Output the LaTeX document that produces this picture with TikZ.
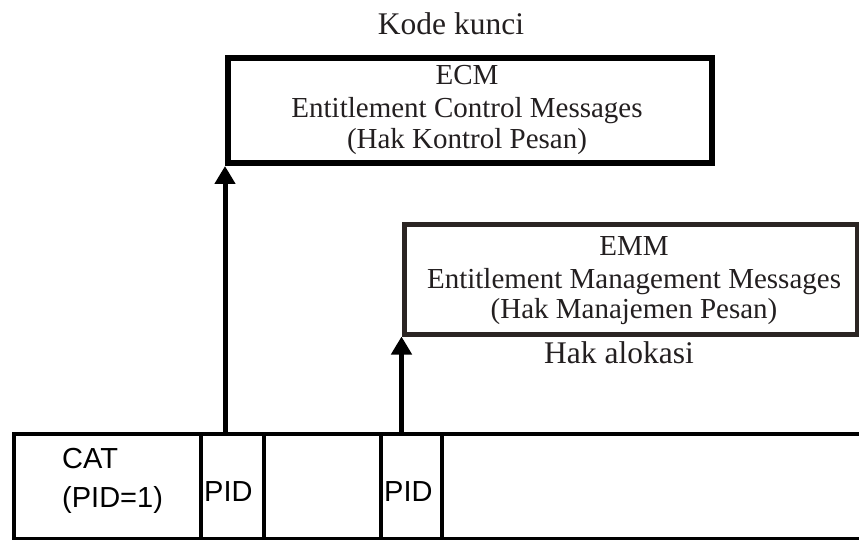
\documentclass[tikz,border=0pt]{standalone}
\usepackage{fontspec}
\setmainfont{Liberation Serif}
\newfontfamily\arialf{Liberation Sans}
\usetikzlibrary{arrows.meta}
\definecolor{txtgray}{HTML}{231F20}
\definecolor{boxgray}{HTML}{2B2523}
\begin{document}
\begin{tikzpicture}[x=1pt,y=-1pt,
  bigbox/.style={draw=black, line width=6pt, inner sep=0pt},
  mgmtbox/.style={draw=boxgray, line width=5pt, inner sep=0pt},
  cell/.style={draw=black, line width=4.5pt, inner sep=0pt, minimum height=105.5pt},
  serif/.style={font=\fontsize{29}{32}\selectfont, text=txtgray, anchor=base, inner sep=0pt},
  caption/.style={serif, font=\fontsize{31.5}{34}\selectfont},
  sans/.style={font=\arialf\fontsize{29}{32}\selectfont, text=black, anchor=base west, inner sep=0pt},
  arr/.style={line width=5pt, -{Triangle[width=20pt,length=18pt]}}]
\useasboundingbox (0,0) rectangle (859,540);

% boxes
\node[bigbox, minimum width=484pt, minimum height=105pt] (ecm) at (470,110.5) {};
\node[mgmtbox, minimum width=453pt, minimum height=110pt] (emm) at (630.5,279) {};

% bottom row
\node[cell, minimum width=187pt] (cat) at (107.5,486.75) {};
\node[cell, minimum width=63pt] (pid1) at (232.5,486.75) {};
\node[cell, minimum width=117pt] (gap) at (322.5,486.75) {};
\node[cell, minimum width=61pt] (pid2) at (411.5,486.75) {};
\node[cell, minimum width=438pt] (rest) at (661,486.75) {};

% texts
\node[caption] (kode) at (451,35) {Kode kunci};
\node[serif] (ecm1) at (467,85) {ECM};
\node[serif] (ecm2) at (467,118) {Entitlement Control Messages};
\node[serif] (ecm3) at (467,149) {(Hak Kontrol Pesan)};
\node[serif] (emm1) at (634,255) {EMM};
\node[serif] (emm2) at (634,288) {Entitlement Management Messages};
\node[serif] (emm3) at (634,318) {(Hak Manajemen Pesan)};
\node[caption] (alok) at (619,363) {Hak alokasi};

\node[sans] (cattxt) at (62,468) {CAT};
\node[sans] (catpid) at (62,507) {(PID=1)};
\node[sans] (pidA) at (204,501) {PID};
\node[sans] (pidB) at (384,501) {PID};

% connectors
\draw[arr] (pid1.north -| ecm.south west) -- (ecm.south west);
\draw[arr] (pid2.north -| emm.south west) -- (emm.south west);
\end{tikzpicture}
\end{document}
